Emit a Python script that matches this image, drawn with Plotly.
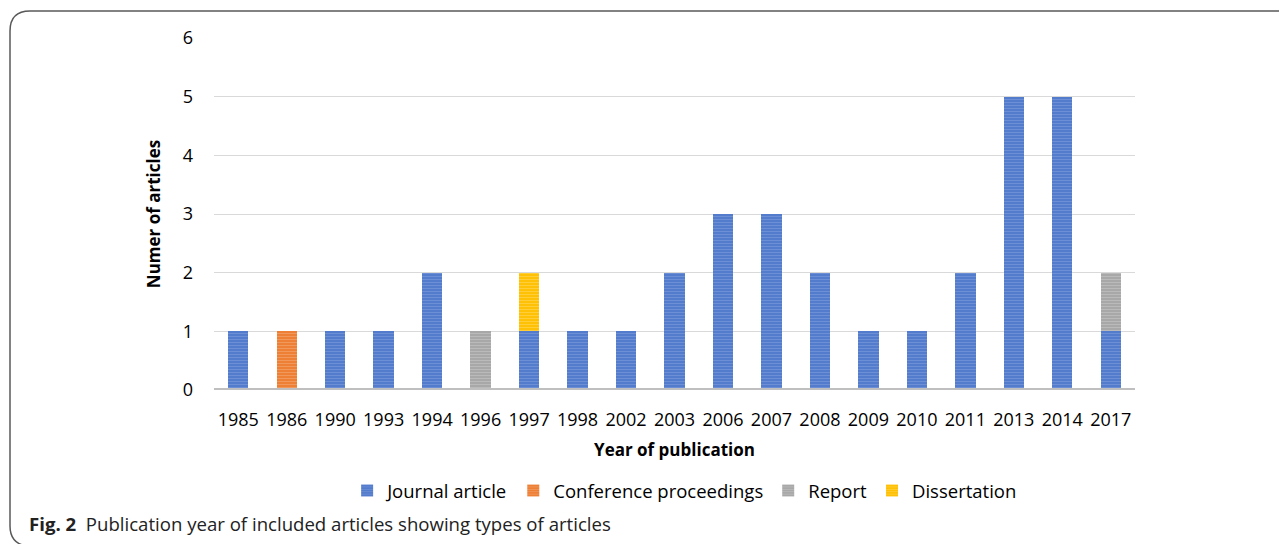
import plotly.graph_objects as go

years = ["1985", "1986", "1990", "1993", "1994", "1996", "1997", "1998", "2002", "2003",
         "2006", "2007", "2008", "2009", "2010", "2011", "2013", "2014", "2017"]
journal = [1, 0, 1, 1, 2, 0, 1, 1, 1, 2, 3, 3, 2, 1, 1, 2, 5, 5, 1]
conference = [0, 1, 0, 0, 0, 0, 0, 0, 0, 0, 0, 0, 0, 0, 0, 0, 0, 0, 0]
report = [0, 0, 0, 0, 0, 1, 0, 0, 0, 0, 0, 0, 0, 0, 0, 0, 0, 0, 1]
dissertation = [0, 0, 0, 0, 0, 0, 1, 0, 0, 0, 0, 0, 0, 0, 0, 0, 0, 0, 0]

series = [
    ("Journal article", journal, "#5079cb", "#88a5e0"),
    ("Conference proceedings", conference, "#ed7d31", "#f6b48a"),
    ("Report", report, "#a5a5a5", "#d0d0d0"),
    ("Dissertation", dissertation, "#ffc000", "#ffdc70"),
]

FONT = "Open Sans"
fig = go.Figure()
for name, vals, c, fg in series:
    fig.add_trace(go.Bar(
        x=years, y=vals, name=name,
        marker=dict(color=c, line=dict(width=0),
                    pattern=dict(shape="-", fgcolor=fg, size=3, solidity=0.4, fillmode="overlay")),
    ))

# page body has an 8px margin; work in screen pixels and subtract it
OFF = 8
W, H = 1287, 544
L, R, T, B = 214 - OFF, 1135 - OFF, 38 - OFF, 390 - OFF
pw, ph = R - L, B - T


def px(x):
    return (x - OFF - L) / pw


def py(y):
    return (B - (y - OFF)) / ph


path = (f"M {px(1300)},{py(11)} L {px(30)},{py(11)} Q {px(10)},{py(11)} {px(10)},{py(31)} "
        f"L {px(10)},{py(526)} Q {px(10)},{py(543)} {px(26)},{py(546)}")

fig.update_layout(
    barmode="stack",
    bargap=0.58,
    width=W, height=H,
    margin=dict(l=L, r=W - R, t=T, b=H - B, autoexpand=False),
    plot_bgcolor="white", paper_bgcolor="white",
    font=dict(family=FONT, size=17, color="#000000"),
    xaxis=dict(
        type="category", showgrid=False, ticks="", showline=False,
        tickfont=dict(size=18), ticklabelstandoff=17,
        title=dict(text="<b>Year of publication</b>", font=dict(size=17), standoff=14),
    ),
    yaxis=dict(
        range=[0, 6], dtick=1, showgrid=True, gridcolor="#d9d9d9", gridwidth=1,
        zeroline=False, showline=False, ticks="", ticklabelstandoff=20,
        tickfont=dict(size=18),
        title=dict(text="<b>Numer of articles</b>", font=dict(size=17), standoff=17),
    ),
    legend=dict(orientation="h", x=0.511, xanchor="center", y=py(491), yanchor="middle",
                font=dict(size=18.5), itemwidth=30, traceorder="normal"),
    shapes=[
        dict(type="line", xref="paper", yref="y", x0=0, x1=1, y0=0, y1=0,
             line=dict(color="#bfbfbf", width=4), layer="above"),
        dict(type="path", xref="paper", yref="paper", path=path,
             line=dict(color="#595959", width=1.5)),
    ],
    annotations=[
        dict(xref="paper", yref="paper", x=px(27), y=py(523), xanchor="left", yanchor="middle",
             showarrow=False, text="<b>Fig. 2</b>  Publication year of included articles showing types of articles",
             font=dict(family=FONT, size=18.6, color="#222222")),
    ],
)

fig.write_html("out.html")
